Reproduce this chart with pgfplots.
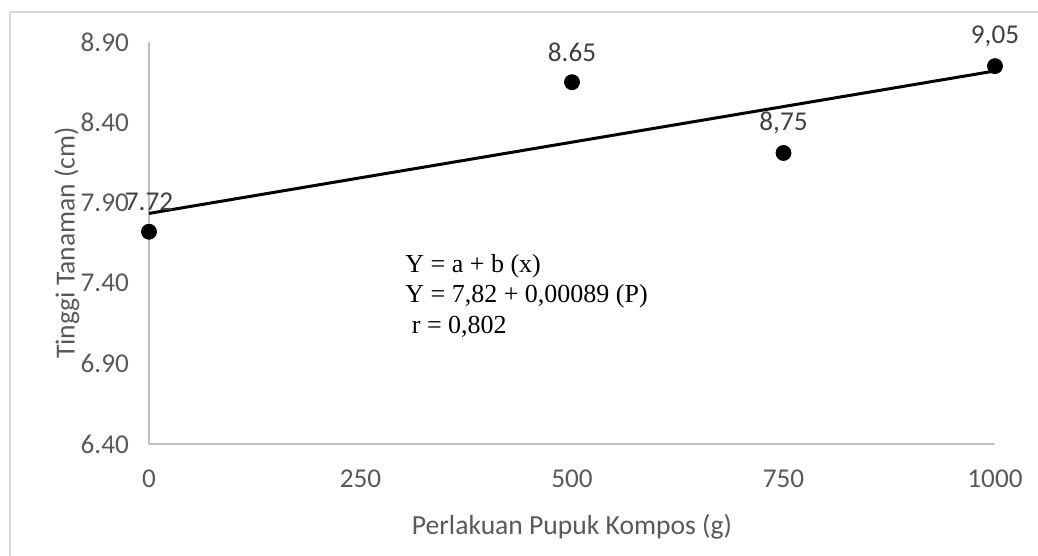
\documentclass[border=0pt]{standalone}
\usepackage{pgfplots}
\pgfplotsset{compat=1.18}
\usepackage{fontspec}
\setmainfont{Carlito}
\newfontfamily\timesfont{Liberation Serif}
\definecolor{txtgray}{HTML}{595959}
\definecolor{lblgray}{HTML}{404040}
\definecolor{axgray}{HTML}{BFBFBF}
\definecolor{framegray}{HTML}{D9D9D9}
\begin{document}
\begin{tikzpicture}
\useasboundingbox (-74.5pt,-56pt) rectangle (444.5pt,222pt);
\draw[framegray,line width=0.8pt] (-69.5pt,-60pt) -- (-69.5pt,216pt) -- (450pt,216pt);
\begin{axis}[
  at={(0,0)}, anchor=origin,
  scale only axis, width=423pt, height=201pt,
  xmin=0, xmax=1000, ymin=6.4, ymax=8.9,
  xtick={0,250,500,750,1000},
  ytick={6.4,6.9,7.4,7.9,8.4,8.9},
  yticklabel style={/pgf/number format/fixed, /pgf/number format/fixed zerofill, /pgf/number format/precision=2},
  xticklabel style={/pgf/number format/1000 sep={}},
  /pgf/number format/assume math mode=true,
  tick label style={font=\fontsize{13.6}{15}\selectfont, text=txtgray},
  yticklabel style={xshift=-6.5pt},
  xticklabel style={yshift=-9.5pt},
  major tick length=0pt,
  axis x line*=bottom, axis y line*=left,
  axis line style={axgray, line width=0.6pt},
  every outer x axis line/.append style={-},
  every outer y axis line/.append style={-},
  xlabel={Perlakuan Pupuk Kompos (g)},
  label style={font=\fontsize{13.8}{15}\selectfont, text=txtgray},
  xlabel style={at={(0.5,0)}, anchor=center, yshift=-41.5pt},
  clip=false,
]
\addplot[no marks, black, line width=1.5pt] coordinates {(0,7.834) (1000,8.720)};
\addplot[only marks, mark=*, mark size=3.75pt, black,
  nodes near coords, point meta=explicit symbolic,
  every node near coord/.append style={font=\fontsize{13.6}{15}\selectfont, text=lblgray, anchor=center, yshift=15pt}]
  coordinates {
    (0,7.72) [7.72]
    (500,8.65) [8.65]
    (750,8.21) [8,75]
    (1000,8.75) [9,05]
  };
\node[anchor=west, font=\timesfont\fontsize{13}{15}\selectfont, inner sep=0pt] at (axis cs:302.6,7.503) {Y = a + b (x)};
\node[anchor=west, font=\timesfont\fontsize{13}{15}\selectfont, inner sep=0pt] at (axis cs:302.6,7.317) {Y = 7,82 + 0,00089 (P)};
\node[anchor=west, font=\timesfont\fontsize{13}{15}\selectfont, inner sep=0pt] at (axis cs:302.6,7.130) {\ r = 0,802};
\end{axis}
\node[rotate=90, anchor=center, font=\fontsize{13.8}{15}\selectfont, text=txtgray] at (-41pt,100.5pt) {Tinggi Tanaman (cm)};
\end{tikzpicture}
\end{document}
